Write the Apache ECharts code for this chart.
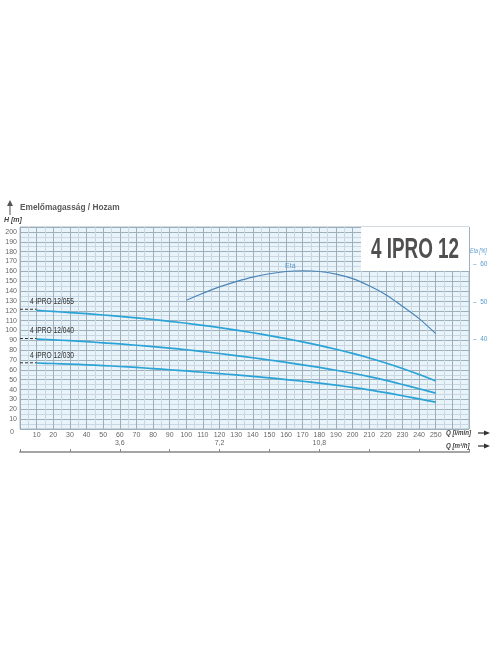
<!DOCTYPE html>
<html>
<head>
<meta charset="utf-8">
<script src="https://cdn.jsdelivr.net/npm/echarts@6/dist/echarts.min.js"></script>
<style>
  html, body { margin: 0; padding: 0; background: #fff; }
  #chart { width: 496px; height: 664px; }
</style>
</head>
<body>
<div id="chart"></div>
<script>
// Flow points (l/min) for the head curves
const flowLmin = [10, 20, 30, 40, 50, 60, 70, 80, 90, 100, 110, 120, 130, 140, 150, 160, 170, 180, 190, 200, 210, 220, 230, 240, 250];

// Head (m) per pump model
const head055 = [120.3, 119.3, 118.2, 117.0, 115.7, 114.3, 112.8, 111.1, 109.3, 107.3, 105.2, 102.9, 100.4, 97.7, 94.8, 91.7, 88.4, 84.8, 80.9, 76.7, 72.1, 67.0, 61.4, 55.3, 48.7];
const head040 = [91.3, 90.5, 89.6, 88.6, 87.5, 86.3, 85.0, 83.6, 82.1, 80.4, 78.6, 76.6, 74.5, 72.3, 70.0, 67.6, 65.1, 62.5, 59.65, 56.55, 53.15, 49.35, 45.15, 40.85, 36.35];
const head030 = [67.0, 66.45, 65.85, 65.15, 64.35, 63.45, 62.45, 61.35, 60.15, 58.9, 57.6, 56.25, 54.85, 53.4, 51.85, 50.2, 48.45, 46.55, 44.5, 42.25, 39.75, 36.85, 33.75, 30.55, 27.25];

// Efficiency curve
const etaFlow = [100, 110, 120, 130, 140, 150, 160, 170, 180, 190, 200, 210, 220, 230, 240, 250];
const etaValues = [50.4, 52.3, 54, 55.4, 56.6, 57.5, 58.1, 58.3, 58.1, 57.4, 56.2, 54.3, 51.9, 48.8, 45.5, 41.5];

const pumpNames = ['4 IPRO 12/055', '4 IPRO 12/040', '4 IPRO 12/030'];
const shutOffHead = [121.5, 91.8, 67.2];
const etaTicks = [40, 50, 60];
const m3hLabels = [3.6, 7.2, 10.8];

const font = "'Liberation Sans', Arial, sans-serif";
const curveColor = '#2ba3d6';
const etaColor = '#4a86b8';

const chart = echarts.init(document.getElementById('chart'));

const heads = [head055, head040, head030];
const series = [];

heads.forEach((h, i) => {
    series.push({
        name: pumpNames[i],
        type: 'line',
        smooth: 0.3,
        symbol: 'none',
        lineStyle: { color: curveColor, width: 1.7 },
        data: flowLmin.map((q, k) => [q, h[k]])
    });
    // dashed lead-in from zero flow
    series.push({
        type: 'line',
        symbol: 'none',
        lineStyle: { color: '#333', width: 1, type: [3, 2] },
        data: [[0, shutOffHead[i]], [flowLmin[0], shutOffHead[i]]]
    });
});

series.push({
    name: 'Eta',
    type: 'line',
    yAxisIndex: 1,
    smooth: 0.3,
    symbol: 'none',
    lineStyle: { color: etaColor, width: 1.2 },
    data: etaFlow.map((q, k) => [q, etaValues[k]])
});

const tickLabel = { fontSize: 7, color: '#666', fontFamily: font };

const option = {
    animation: false,
    grid: {
        left: 20, right: 27, top: 227, bottom: 235,
        show: true,
        backgroundColor: '#e9f3fa',
        borderColor: '#a9b6c1',
        borderWidth: 1
    },
    xAxis: [{
        type: 'value',
        min: 0, max: 270, interval: 10,
        axisLine: { show: false },
        axisTick: { show: false },
        axisLabel: Object.assign({}, tickLabel, {
            margin: 3,
            formatter: v => (v === 0 || v > 250) ? '' : String(v)
        }),
        splitLine: { lineStyle: { color: '#9eafbc', width: 1 } },
        minorTick: { show: false, splitNumber: 2 },
        minorSplitLine: { show: true, lineStyle: { color: '#c8d7e2', width: 1 } }
    }, {
        type: 'value',
        position: 'bottom',
        offset: 23,
        min: 0, max: 16.2, interval: 1.8,
        axisLine: { show: true, lineStyle: { color: '#a5a5a5', width: 2 } },
        axisTick: { show: true, inside: true, length: 3, lineStyle: { color: '#888' } },
        axisLabel: Object.assign({}, tickLabel, {
            inside: true,
            margin: 5,
            formatter: v => {
                const r = Math.round(v * 10) / 10;
                return m3hLabels.indexOf(r) >= 0 ? String(r).replace('.', ',') : '';
            }
        }),
        splitLine: { show: false }
    }],
    yAxis: [{
        type: 'value',
        min: 0, max: 205, interval: 10,
        axisLine: { show: false },
        axisTick: { show: false },
        axisLabel: Object.assign({}, tickLabel, {
            margin: 3,
            formatter: v => (v === 0 || v > 200) ? '' : String(v)
        }),
        splitLine: { lineStyle: { color: '#9eafbc', width: 1 } },
        minorTick: { show: false, splitNumber: 2 },
        minorSplitLine: { show: true, lineStyle: { color: '#c8d7e2', width: 1 } }
    }, {
        type: 'value',
        position: 'right',
        min: 16, max: 70, interval: 2,
        axisLine: { show: false },
        axisTick: { show: false },
        splitLine: { show: false },
        axisLabel: {
            fontSize: 6.5, color: '#5a9ccc', fontFamily: font, margin: 4,
            formatter: v => etaTicks.indexOf(v) >= 0 ? '–  ' + v : ''
        }
    }],
    series: series
};

chart.setOption(option);

// Texts that follow the data positions
const labelGraphics = heads.map((h, i) => {
    const p = chart.convertToPixel({ xAxisIndex: 0, yAxisIndex: 0 }, [6, shutOffHead[i]]);
    return {
        type: 'text', x: p[0], y: p[1] - 12, scaleX: 0.78, z: 10,
        style: { text: pumpNames[i], fontSize: 8.5, fill: '#333', fontFamily: font }
    };
});
const etaPos = chart.convertToPixel({ xAxisIndex: 0, yAxisIndex: 1 }, [168, 58.3]);

const arrow = (y) => ([
    { type: 'line', shape: { x1: 478, y1: y, x2: 486, y2: y }, style: { stroke: '#333', lineWidth: 1.2 } },
    { type: 'polygon', shape: { points: [[484, y - 2.5], [490, y], [484, y + 2.5]] }, style: { fill: '#333' } }
]);

chart.setOption({
    graphic: [
        { type: 'line', shape: { x1: 10, y1: 204, x2: 10, y2: 215 }, style: { stroke: '#555', lineWidth: 1 } },
        { type: 'polygon', shape: { points: [[7, 206], [10, 200], [13, 206]] }, style: { fill: '#555' } },
        { type: 'text', left: 20, top: 204, style: { text: 'Emelőmagasság / Hozam', fontSize: 8.3, fontWeight: 'bold', fill: '#5a5a5a', fontFamily: font } },
        { type: 'text', left: 4, top: 217, style: { text: 'H [m]', fontSize: 7, fontWeight: 'bold', fontStyle: 'italic', fill: '#444', fontFamily: font } },
        { type: 'rect', shape: { x: 361, y: 227, width: 108, height: 44 }, style: { fill: '#fff' }, z: 5 },
        { type: 'text', x: 415, y: 250, scaleX: 0.65, z: 6, style: { text: '4 IPRO 12', fontSize: 29, fontWeight: 'bold', fill: '#4f4f4f', fontFamily: font, align: 'center', verticalAlign: 'middle' } },
        { type: 'text', x: 470, y: 248, scaleX: 0.8, style: { text: 'Eta [%]', fontSize: 6.5, fontStyle: 'italic', fill: '#5a9ccc', fontFamily: font } },
        { type: 'text', x: etaPos[0] - 9, y: etaPos[1] - 8, z: 10, style: { text: 'Eta', fontSize: 7, fill: '#5a9ccc', fontFamily: font, align: 'center' } },
        { type: 'text', left: 10, top: 429, style: { text: '0', fontSize: 7, fill: '#666', fontFamily: font } },
        { type: 'text', x: 446, y: 429, scaleX: 0.82, style: { text: 'Q [l/min]', fontSize: 7.5, fontWeight: 'bold', fontStyle: 'italic', fill: '#444', fontFamily: font } },
        { type: 'text', x: 446, y: 442, scaleX: 0.82, style: { text: 'Q [m³/h]', fontSize: 7.5, fontWeight: 'bold', fontStyle: 'italic', fill: '#444', fontFamily: font } }
    ].concat(arrow(433), arrow(446), labelGraphics)
});
</script>
</body>
</html>
